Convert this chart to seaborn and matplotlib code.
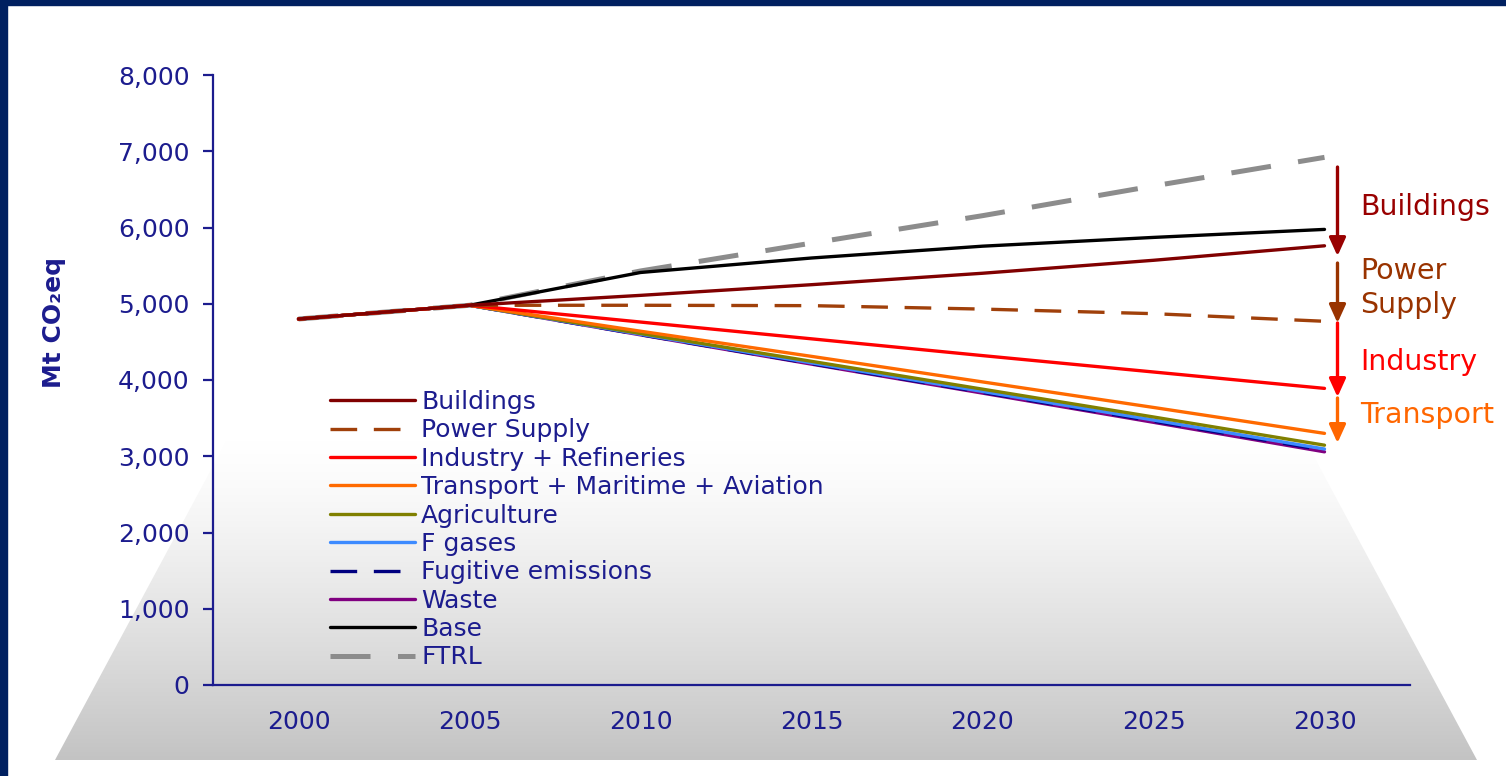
import numpy as np
import pandas as pd
import matplotlib
matplotlib.use("Agg")
import matplotlib.pyplot as plt
from matplotlib.patches import Polygon, Rectangle
import seaborn as sns

# ---------------- data ----------------
years = [2000, 2005, 2010, 2015, 2020, 2025, 2030]
buildings = [4800, 4980, 5110, 5250, 5400, 5570, 5760]
power_supply = [4800, 4980, 4980, 4975, 4930, 4870, 4770]
industry = [4800, 4980, 4760, 4540, 4320, 4105, 3890]
transport = [4800, 4980, 4640, 4310, 3975, 3640, 3300]
agriculture = [4800, 4980, 4610, 4245, 3880, 3515, 3145]
f_gases = [4800, 4980, 4600, 4225, 3850, 3475, 3095]
fugitive = [4800, 4980, 4595, 4215, 3838, 3460, 3078]
waste = [4800, 4980, 4592, 4208, 3828, 3445, 3058]
base = [4800, 4980, 5410, 5600, 5755, 5870, 5975]
ftrl = [4800, 4980, 5430, 5795, 6155, 6545, 6920]

series_names = ["Buildings", "Power Supply", "Industry + Refineries",
                "Transport + Maritime + Aviation", "Agriculture", "F gases",
                "Fugitive emissions", "Waste", "Base", "FTRL"]
series_values = [buildings, power_supply, industry, transport, agriculture,
                 f_gases, fugitive, waste, base, ftrl]
y_ticks = [0, 1000, 2000, 3000, 4000, 5000, 6000, 7000, 8000]
y_label = "Mt CO₂eq"

# annotation arrows on the right (start value, end value) and labels
arrow_labels = ["Buildings", "Power\nSupply", "Industry", "Transport"]
arrow_spans = [(6793, 5626), (5534, 4748), (4748, 3777), (3764, 3174)]
arrow_label_y = [6269, 5207, 4236, 3541]

# ---------------- style ----------------
sns.set_style("white")
plt.rcParams["font.family"] = ["DejaVu Sans"]

navy = "#1c1c8e"
colors = ["#800000", "#a0400a", "#ff0000", "#ff6a00", "#808000", "#3d8bff",
          "#000080", "#800080", "#000000", "#8c8c8c"]
lws = [2.4, 2.4, 2.4, 2.4, 2.4, 2.4, 2.4, 2.4, 2.4, 3.6]
dash_map = {1: (8, 5), 6: (8, 5), 9: (8, 5.5)}
arrow_colors = ["#990000", "#993300", "#ff0000", "#ff6600"]

W, H = 1506, 776
fig = plt.figure(figsize=(W / 100, H / 100), dpi=100)
fig.patch.set_facecolor("white")

# background: gradient floor + navy border
bg = fig.add_axes([0, 0, 1, 1], zorder=-5)
bg.set_xlim(0, W)
bg.set_ylim(H, 0)
bg.axis("off")
grad = np.linspace(0, 1, 300) ** 1.3
g = 1.0 - grad * (1.0 - 0.765)
img = np.tile(g[:, None, None], (1, 2, 3))
im = bg.imshow(img, extent=[0, W, 760, 440], origin="upper", aspect="auto",
               interpolation="bilinear")
poly = Polygon([(55, 760), (1477, 760), (1305, 440), (227, 440)], closed=True,
               transform=bg.transData, facecolor="none", edgecolor="none")
bg.add_patch(poly)
im.set_clip_path(poly)
bg.add_patch(Rectangle((0, 0), W, 5, color="#002060"))
bg.add_patch(Rectangle((0, 0), 7, H, color="#002060"))

# main axes
ax = fig.add_axes([213 / W, 91 / H, 1197 / W, 610 / H])
ax.set_facecolor("none")

df = pd.DataFrame({"year": years})
for name, vals in zip(series_names, series_values):
    df[name] = vals

handles = []
for i, name in enumerate(series_names):
    sns.lineplot(data=df, x="year", y=name, ax=ax, color=colors[i], lw=lws[i],
                 zorder=3 + (10 - i) * 0.1, legend=False)
    line = ax.lines[-1]
    if i in dash_map:
        line.set_dashes(dash_map[i])
    handles.append(line)

ax.set_xlim(1997.5, 2032.5)
ax.set_ylim(0, 8000)
ax.set_yticks(y_ticks)
ax.set_yticklabels([f"{v:,}" for v in y_ticks])
ax.set_xticks(years)
ax.set_xticklabels([str(y) for y in years])
ax.set_xticks([1997.5 + 5 * k for k in range(8)], minor=True)
ax.tick_params(axis="x", which="major", length=0, pad=18, labelsize=18, colors=navy)
ax.tick_params(axis="x", which="minor", length=8, width=1.6, color=navy, direction="out")
ax.tick_params(axis="y", length=7, width=1.6, color=navy, pad=10, labelsize=18,
               labelcolor=navy, direction="out", left=True)
for s in ["top", "right"]:
    ax.spines[s].set_visible(False)
for s in ["left", "bottom"]:
    ax.spines[s].set_color(navy)
    ax.spines[s].set_linewidth(1.6)
ax.set_xlabel("")
ax.set_ylabel(y_label, fontsize=18, fontweight="bold", color=navy)
ax.yaxis.set_label_coords(-0.123, 0.595)

leg = ax.legend(handles, series_names, loc="upper left",
                bbox_to_anchor=((330 - 213) / 1197, (685 - 390) / 610),
                frameon=False, fontsize=18, handlelength=3.4, handletextpad=0.24,
                labelspacing=0.175, borderaxespad=0, borderpad=0)
for t in leg.get_texts():
    t.set_color(navy)

# right-side arrows and labels
x_arrow = 2030.38
x_text = 2031.05
for lab, (y0, y1), ty, c in zip(arrow_labels, arrow_spans, arrow_label_y, arrow_colors):
    ax.annotate("", xy=(x_arrow, y1), xytext=(x_arrow, y0),
                arrowprops=dict(arrowstyle="-|>,head_length=0.55,head_width=0.25",
                                color=c, lw=2.4, shrinkA=0, shrinkB=0,
                                mutation_scale=20),
                annotation_clip=False)
    ax.text(x_text, ty, lab, color=c, fontsize=20.5, ha="left", va="center",
            linespacing=1.25, clip_on=False)

fig.savefig("out.png", dpi=100, facecolor="white")
